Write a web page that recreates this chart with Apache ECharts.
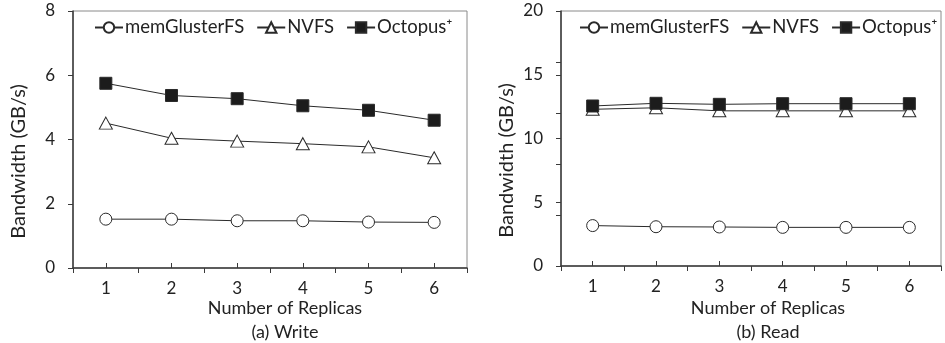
<!DOCTYPE html>
<html>
<head>
<meta charset="utf-8">
<script src="https://cdn.jsdelivr.net/npm/echarts@6/dist/echarts.min.js"></script>
<style>
  html, body { margin: 0; padding: 0; background: #fff; }
  #chart { width: 945px; height: 343px; }
</style>
</head>
<body>
<div id="chart"></div>
<script>
// Replica counts on the x axis
const replicas = ['1', '2', '3', '4', '5', '6'];
const seriesNames = ['memGlusterFS', 'NVFS', 'Octopus\u207A'];

// Write bandwidth (GB/s)
const writeMemGlusterFS = [1.52, 1.52, 1.47, 1.47, 1.43, 1.42];
const writeNVFS = [4.51, 4.04, 3.95, 3.87, 3.77, 3.43];
const writeOctopus = [5.75, 5.37, 5.27, 5.05, 4.91, 4.60];

// Read bandwidth (GB/s)
const readMemGlusterFS = [3.17, 3.08, 3.06, 3.03, 3.03, 3.03];
const readNVFS = [12.29, 12.41, 12.17, 12.17, 12.17, 12.17];
const readOctopus = [12.55, 12.76, 12.68, 12.73, 12.73, 12.73];

const FONT = 'Lato';
const AXIS = '#3a3a3a';
const LINE = '#2a2a2a';

const symbols = [
  { symbol: 'circle', size: 12, fill: '#ffffff' },
  { symbol: 'triangle', size: [13, 12], fill: '#ffffff' },
  { symbol: 'rect', size: 12, fill: '#1c1c1c' }
];

function makeSeries(gridIdx, dataList) {
  return dataList.map((d, i) => ({
    name: seriesNames[i],
    type: 'line',
    xAxisIndex: gridIdx * 2,
    yAxisIndex: gridIdx * 2,
    data: d,
    symbol: symbols[i].symbol,
    symbolSize: symbols[i].size,
    showAllSymbol: true,
    lineStyle: { color: LINE, width: 1 },
    itemStyle: { color: symbols[i].fill, borderColor: LINE, borderWidth: 1 },
    emphasis: { disabled: true },
    z: 3 + i
  }));
}

function categoryAxes(gridIdx) {
  return [
    {
      type: 'category', gridIndex: gridIdx, data: replicas, boundaryGap: true,
      axisLine: { lineStyle: { color: AXIS, width: 1.5 } },
      axisTick: { show: true, length: 5, lineStyle: { color: AXIS } },
      axisLabel: { color: '#222', fontFamily: FONT, fontSize: 17, margin: 12 },
      splitLine: { show: false }
    },
    {
      type: 'category', gridIndex: gridIdx, data: replicas, boundaryGap: true,
      axisLine: { show: false },
      axisTick: { show: true, alignWithLabel: true, length: 5, lineStyle: { color: AXIS } },
      axisLabel: { show: false },
      splitLine: { show: false }
    }
  ];
}

function valueAxes(gridIdx, max, interval, minorInterval) {
  return [
    {
      type: 'value', gridIndex: gridIdx, position: 'left', min: 0, max: max, interval: interval,
      name: 'Bandwidth (GB/s)', nameLocation: 'middle', nameGap: 44,
      nameTextStyle: { fontFamily: FONT, fontSize: 20, color: '#222', padding: [0, 44, 0, 0] },
      axisLine: { show: true, lineStyle: { color: AXIS, width: 1.5 } },
      axisTick: { show: true, length: 5, lineStyle: { color: AXIS } },
      axisLabel: { color: '#222', fontFamily: FONT, fontSize: 17, margin: 18 },
      splitLine: { show: false }
    },
    {
      type: 'value', gridIndex: gridIdx, position: 'left', min: 0, max: max,
      interval: minorInterval || interval,
      axisLine: { show: false },
      axisTick: { show: !!minorInterval, length: 5, lineStyle: { color: AXIS } },
      axisLabel: { show: false },
      splitLine: { show: false }
    }
  ];
}

function legendFor(left) {
  return {
    left: left, top: 18, width: 420, padding: 0,
    itemWidth: 28, itemHeight: 13, itemGap: 12,
    textStyle: { fontFamily: FONT, fontSize: 18.5, color: '#222', padding: [0, 0, 0, -3] },
    data: seriesNames
  };
}

function caption(text, x, y) {
  return {
    text: text, left: x, top: y, textAlign: 'center',
    textStyle: { fontFamily: FONT, fontSize: 18, fontWeight: 'normal', color: '#222' }
  };
}

const chart = echarts.init(document.getElementById('chart'), null, { renderer: 'canvas' });

chart.setOption({
  animation: false,
  backgroundColor: '#ffffff',
  title: [
    caption('Number of Replicas', 280, 294),
    caption('(a) Write', 280, 318),
    caption('Number of Replicas', 763, 294),
    caption('(b) Read', 763, 318)
  ],
  legend: [legendFor(94), legendFor(579)],
  grid: [
    { left: 73, top: 11, width: 394, height: 257, show: true, borderColor: '#8a8a8a', borderWidth: 1, backgroundColor: 'transparent' },
    { left: 561, top: 11, width: 380, height: 255, show: true, borderColor: '#8a8a8a', borderWidth: 1, backgroundColor: 'transparent' }
  ],
  xAxis: [...categoryAxes(0), ...categoryAxes(1)],
  yAxis: [...valueAxes(0, 8, 2, null), ...valueAxes(1, 20, 5, 4)],
  series: [
    ...makeSeries(0, [writeMemGlusterFS, writeNVFS, writeOctopus]),
    ...makeSeries(1, [readMemGlusterFS, readNVFS, readOctopus])
  ]
});
</script>
</body>
</html>
